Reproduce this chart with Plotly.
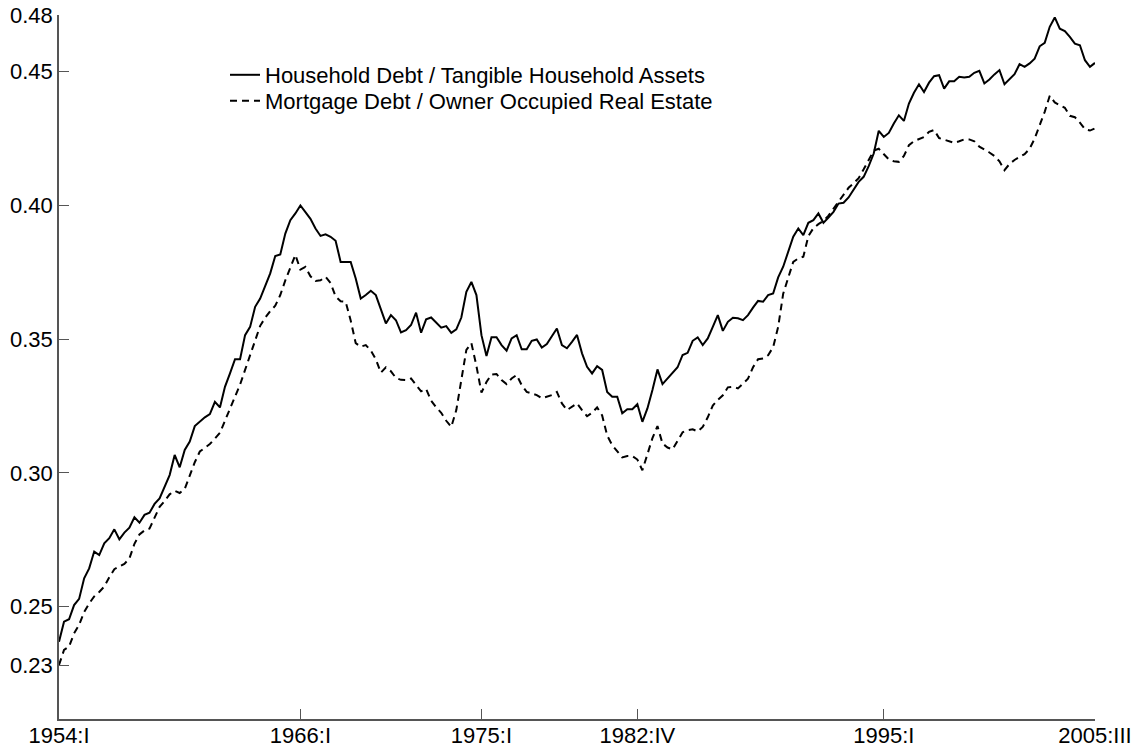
import plotly.graph_objects as go

# quarter labels 1954:I ... 2005:III
roman = ["I", "II", "III", "IV"]
quarter_labels = [f"{1954 + k // 4}:{roman[k % 4]}" for k in range(207)]

household_debt_ratio = [
    0.2369, 0.2444, 0.2453, 0.2506, 0.2529, 0.2606, 0.2643, 0.2706, 0.2693, 0.2737,
    0.2756, 0.2789, 0.2752, 0.2777, 0.2795, 0.2834, 0.2814, 0.2843, 0.2851, 0.2884,
    0.2905, 0.2946, 0.2992, 0.3067, 0.3021, 0.3086, 0.3117, 0.3175, 0.3191, 0.3208,
    0.3220, 0.3266, 0.3245, 0.3322, 0.3372, 0.3425, 0.3425, 0.3515, 0.3546, 0.3621,
    0.3652, 0.3696, 0.3746, 0.3811, 0.3817, 0.3895, 0.3945, 0.3970, 0.4000, 0.3975,
    0.3950, 0.3914, 0.3886, 0.3892, 0.3883, 0.3868, 0.3789, 0.3789, 0.3789, 0.3727,
    0.3652, 0.3665, 0.3681, 0.3665, 0.3609, 0.3559, 0.3590, 0.3571, 0.3525, 0.3534,
    0.3553, 0.3599, 0.3524, 0.3574, 0.3581, 0.3561, 0.3543, 0.3549, 0.3524, 0.3537,
    0.3581, 0.3677, 0.3714, 0.3665, 0.3515, 0.3437, 0.3507, 0.3507, 0.3478, 0.3457,
    0.3503, 0.3515, 0.3462, 0.3462, 0.3494, 0.3499, 0.3469, 0.3482, 0.3512, 0.3540,
    0.3478, 0.3466, 0.3490, 0.3516, 0.3447, 0.3397, 0.3372, 0.3399, 0.3385, 0.3303,
    0.3285, 0.3285, 0.3223, 0.3238, 0.3238, 0.3257, 0.3191, 0.3241, 0.3310, 0.3387,
    0.3332, 0.3353, 0.3372, 0.3395, 0.3441, 0.3449, 0.3494, 0.3507, 0.3478, 0.3503,
    0.3546, 0.3590, 0.3531, 0.3565, 0.3580, 0.3578, 0.3571, 0.3590, 0.3618, 0.3643,
    0.3640, 0.3665, 0.3671, 0.3731, 0.3771, 0.3827, 0.3883, 0.3914, 0.3889, 0.3935,
    0.3945, 0.3970, 0.3935, 0.3955, 0.3976, 0.4007, 0.4010, 0.4030, 0.4057, 0.4088,
    0.4107, 0.4147, 0.4194, 0.4279, 0.4256, 0.4271, 0.4306, 0.4337, 0.4316, 0.4381,
    0.4421, 0.4453, 0.4424, 0.4459, 0.4483, 0.4487, 0.4437, 0.4464, 0.4464, 0.4481,
    0.4478, 0.4481, 0.4496, 0.4503, 0.4456, 0.4471, 0.4490, 0.4506, 0.4453, 0.4474,
    0.4491, 0.4528, 0.4518, 0.4531, 0.4549, 0.4595, 0.4608, 0.4668, 0.4703, 0.4661,
    0.4652, 0.4630, 0.4605, 0.4599, 0.4543, 0.4518, 0.4533,
]

mortgage_debt_ratio = [
    0.2282, 0.2338, 0.2351, 0.2400, 0.2432, 0.2480, 0.2512, 0.2538, 0.2555, 0.2575,
    0.2610, 0.2640, 0.2650, 0.2660, 0.2680, 0.2735, 0.2770, 0.2785, 0.2792, 0.2830,
    0.2873, 0.2895, 0.2920, 0.2933, 0.2925, 0.2940, 0.2990, 0.3040, 0.3080, 0.3095,
    0.3108, 0.3128, 0.3150, 0.3195, 0.3240, 0.3285, 0.3330, 0.3385, 0.3440, 0.3495,
    0.3550, 0.3580, 0.3605, 0.3625, 0.3665, 0.3720, 0.3765, 0.3815, 0.3760, 0.3770,
    0.3735, 0.3718, 0.3720, 0.3733, 0.3710, 0.3660, 0.3642, 0.3640, 0.3570, 0.3485,
    0.3472, 0.3478, 0.3458, 0.3425, 0.3375, 0.3395, 0.3380, 0.3355, 0.3348, 0.3347,
    0.3353, 0.3330, 0.3305, 0.3314, 0.3270, 0.3245, 0.3225, 0.3195, 0.3172, 0.3235,
    0.3355, 0.3460, 0.3485, 0.3400, 0.3300, 0.3340, 0.3368, 0.3370, 0.3347, 0.3332,
    0.3353, 0.3366, 0.3328, 0.3303, 0.3297, 0.3291, 0.3279, 0.3285, 0.3291, 0.3303,
    0.3260, 0.3235, 0.3247, 0.3260, 0.3235, 0.3212, 0.3225, 0.3245, 0.3215, 0.3140,
    0.3104, 0.3079, 0.3058, 0.3063, 0.3063, 0.3050, 0.3010, 0.3070, 0.3130, 0.3175,
    0.3110, 0.3095, 0.3088, 0.3120, 0.3152, 0.3160, 0.3163, 0.3155, 0.3172, 0.3208,
    0.3252, 0.3273, 0.3290, 0.3320, 0.3322, 0.3316, 0.3335, 0.3352, 0.3395, 0.3425,
    0.3428, 0.3440, 0.3470, 0.3546, 0.3670, 0.3733, 0.3789, 0.3802, 0.3808, 0.3885,
    0.3915, 0.3930, 0.3942, 0.3962, 0.3988, 0.4012, 0.4042, 0.4066, 0.4083, 0.4102,
    0.4135, 0.4172, 0.4205, 0.4212, 0.4190, 0.4172, 0.4165, 0.4163, 0.4185, 0.4225,
    0.4240, 0.4248, 0.4256, 0.4275, 0.4282, 0.4252, 0.4246, 0.4238, 0.4234, 0.4240,
    0.4247, 0.4247, 0.4240, 0.4220, 0.4210, 0.4198, 0.4185, 0.4165, 0.4132, 0.4155,
    0.4170, 0.4180, 0.4192, 0.4212, 0.4250, 0.4300, 0.4350, 0.4410, 0.4385, 0.4375,
    0.4365, 0.4335, 0.4330, 0.4310, 0.4285, 0.4280, 0.4288,
]

x_tick_labels = ["1954:I", "1966:I", "1975:I", "1982:IV", "1995:I", "2005:III"]
y_tick_values = [0.22795, 0.25, 0.30, 0.35, 0.40, 0.45, 0.47115]
y_tick_labels = ["0.23", "0.25", "0.30", "0.35", "0.40", "0.45", "0.48"]

series_names = [
    "Household Debt / Tangible Household Assets",
    "Mortgage Debt / Owner Occupied Real Estate",
]

x_idx = list(range(len(household_debt_ratio)))
x_tick_idx = [quarter_labels.index(lbl) for lbl in x_tick_labels]

FONT = "Liberation Sans, Arial, sans-serif"
FS = 22
W, H = 1146, 753
ML, MR, MT, MB = 59, 51, 15, 34

def py(px):
    # paper y for a pixel row measured from the top of the figure
    return 1 - (px - MT) / (H - MT - MB)

fig = go.Figure()
fig.add_trace(go.Scatter(
    x=x_idx, y=household_debt_ratio, mode="lines", name=series_names[0],
    line=dict(color="black", width=2), legend="legend",
))
fig.add_trace(go.Scatter(
    x=x_idx, y=mortgage_debt_ratio, mode="lines", name=series_names[1],
    line=dict(color="black", width=2, dash="7px,5px"), legend="legend2",
))

leg_common = dict(
    xanchor="left", yanchor="middle", bgcolor="rgba(0,0,0,0)", borderwidth=0,
    font=dict(family=FONT, size=FS, color="black"), itemwidth=30,
)
lx = (225 - ML) / (W - ML - MR)

fig.update_layout(
    width=W, height=H,
    margin=dict(l=ML, r=MR, t=MT, b=MB, pad=0),
    paper_bgcolor="white", plot_bgcolor="white",
    font=dict(family=FONT, size=FS, color="black"),
    showlegend=True,
    legend=dict(x=lx, y=py(75), **leg_common),
    legend2=dict(x=lx, y=py(101), **leg_common),
)
fig.update_xaxes(
    range=[0, 206], tickmode="array", tickvals=x_tick_idx, ticktext=x_tick_labels,
    showgrid=False, zeroline=False, showline=True, linecolor="#555555", linewidth=1.5,
    ticks="inside", ticklen=10, tickwidth=1, tickcolor="#555555",
    tickfont=dict(family=FONT, size=FS, color="black"), automargin=False,
    ticklabelstandoff=-4,
)
fig.update_yaxes(
    range=[0.2080, 0.4712], tickmode="array", tickvals=y_tick_values, ticktext=y_tick_labels,
    showgrid=False, zeroline=False, showline=True, linecolor="#555555", linewidth=1.5,
    ticks="inside", ticklen=10, tickwidth=1, tickcolor="#555555",
    tickfont=dict(family=FONT, size=FS, color="black"), automargin=False,
)

fig.write_html(
    "out.html",
    config={"displayModeBar": False},
    post_script="document.body.style.margin='0px';document.body.style.overflow='hidden';",
)
